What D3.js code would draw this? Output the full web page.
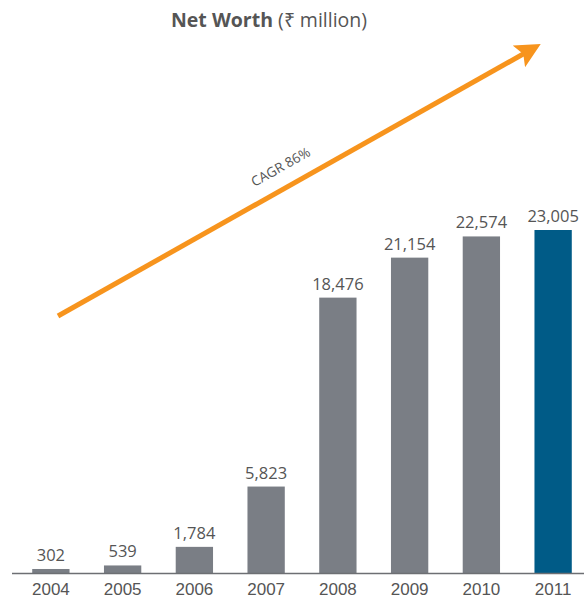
<!DOCTYPE html>
<html lang="en">
<head>
    <meta charset="UTF-8">
    <title>Net Worth</title>
    <script src="https://d3js.org/d3.v7.min.js"></script>
    <style>
        body {
            margin: 0;
            background: #fff;
            font-family: "Open Sans", Arial, sans-serif;
        }
        .value-label {
            fill: #555;
            font-size: 16.5px;
        }
        .year-label {
            fill: #555;
            font-size: 17px;
        }
        .title {
            fill: #555;
            font-size: 19.5px;
        }
    </style>
</head>
<body>
    <svg width="584" height="605"></svg>
    <script>
        // chart data
        const years = ["2004", "2005", "2006", "2007", "2008", "2009", "2010", "2011"];
        const netWorth = [302, 539, 1784, 5823, 18476, 21154, 22574, 23005];
        const barColors = ["#7a7e85", "#7a7e85", "#7a7e85", "#7a7e85", "#7a7e85", "#7a7e85", "#7a7e85", "#005b87"];

        const svg = d3.select("svg");
        const baseY = 573.5;

        const x = d3.scaleBand()
            .domain(years)
            .range([15, 589])
            .paddingInner(0.48)
            .paddingOuter(0.24);

        const y = d3.scaleLinear()
            .domain([0, 23005])
            .range([baseY, 230]);

        // title
        const title = svg.append("text")
            .attr("class", "title")
            .attr("x", 269)
            .attr("y", 27)
            .attr("text-anchor", "middle");
        title.append("tspan").attr("font-weight", "bold").text("Net Worth ");
        title.append("tspan").text("(₹ million)");

        // bars
        svg.selectAll(".bar")
            .data(netWorth)
            .enter().append("rect")
            .attr("class", "bar")
            .attr("x", (d, i) => x(years[i]))
            .attr("width", x.bandwidth())
            .attr("y", d => y(d))
            .attr("height", d => baseY - y(d))
            .attr("fill", (d, i) => barColors[i]);

        // value labels
        svg.selectAll(".value-label")
            .data(netWorth)
            .enter().append("text")
            .attr("class", "value-label")
            .attr("x", (d, i) => x(years[i]) + x.bandwidth() / 2)
            .attr("y", d => y(d) - 8)
            .attr("text-anchor", "middle")
            .text(d => d3.format(",")(d));

        // x axis
        const axis = svg.append("g")
            .attr("transform", `translate(0,${baseY})`)
            .call(d3.axisBottom(x).tickSize(0).tickPadding(9));
        axis.select(".domain").attr("d", "M12,0H584").attr("stroke", "#6d6f73").attr("stroke-width", 1.5);
        axis.selectAll("text")
            .attr("class", "year-label")
            .attr("font-family", null)
            .attr("font-size", null)
            .attr("fill", null);

        // CAGR arrow
        const defs = svg.append("defs");
        defs.append("marker")
            .attr("id", "head")
            .attr("viewBox", "0 0 10 10")
            .attr("refX", 6)
            .attr("refY", 5)
            .attr("markerWidth", 5)
            .attr("markerHeight", 5)
            .attr("markerUnits", "strokeWidth")
            .attr("orient", "auto")
            .append("path")
            .attr("d", "M0,0L10,5L0,10L2,5Z")
            .attr("fill", "#f7941d");

        svg.append("line")
            .attr("x1", 58).attr("y1", 316)
            .attr("x2", 532).attr("y2", 49)
            .attr("stroke", "#f7941d")
            .attr("stroke-width", 5)
            .attr("marker-end", "url(#head)");

        svg.append("text")
            .attr("transform", "translate(283,171) rotate(-29.4)")
            .attr("text-anchor", "middle")
            .attr("fill", "#555")
            .attr("font-size", 13.5)
            .text("CAGR 86%");
    </script>
</body>
</html>
